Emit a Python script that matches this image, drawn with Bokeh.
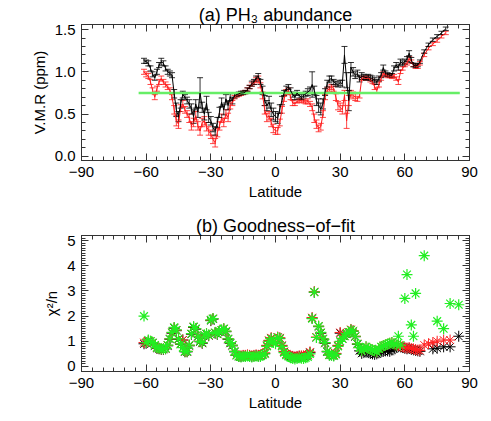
import numpy as np
from bokeh.plotting import figure
from bokeh.layouts import column
from bokeh.models import (Range1d, FixedTicker, LinearAxis, ColumnDataSource,
                          Whisker, TeeHead, PrintfTickFormatter)
from bokeh.embed import file_html
from bokeh.resources import INLINE

nan = float("nan")

# ---------------- panel (a): PH3 abundance ----------------
lat_a = list(range(-61, 68)) + [69, 71, 73, 75, 77, 79]

vmr_black = [
    1.13, 1.12, 1.10, 1.04, 0.97, 0.93, 1.00, 1.08, 1.12, 1.10,   # -61..-52
    1.04, 1.00, 0.98, 0.96, 0.74, 0.55, 0.47, 0.62, 0.73, 0.70,   # -51..-42
    0.66, 0.62, 0.56, 0.47, 0.62, 0.52, 0.75, 0.58, 0.50, 0.63,   # -41..-32
    0.46, 0.42, 0.34, 0.30, 0.40, 0.52, 0.64, 0.55, 0.68, 0.60,   # -31..-22
    0.70, 0.66, 0.72, 0.73, 0.74, 0.75, 0.75, 0.76, 0.79, 0.82,   # -21..-12
    0.86, 0.88, 0.92, 0.95, 0.88, 0.78, 0.66, 0.60, 0.64, 0.55,   # -11..-2
    0.50, 0.47, 0.45, 0.56, 0.66, 0.75, 0.80, 0.82, 0.78, 0.73,   # -1..8
    0.70, 0.75, 0.72, 0.70, 0.72, 0.74, 0.76, 0.78, 0.85, 0.78,   # 9..18
    0.66, 0.60, 0.56, 0.62, 0.76, 0.86, 0.91, 0.92, 0.88, 0.86,   # 19..28
    0.85, 0.87, 0.86, 1.20, 0.90, 0.66, 1.05, 1.00, 0.96, 0.98,   # 29..38
    0.92, 0.95, 0.94, 0.93, 0.94, 0.93, 0.92, 0.90, 0.88, 0.92,   # 39..48
    0.96, 1.05, 0.98, 0.97, 0.96, 0.96, 1.04, 1.08, 1.05, 1.12,   # 49..58
    1.10, 1.12, 1.15, 1.22, 1.14, 1.08, 1.07, 1.08, 1.12,         # 59..67
    1.24, 1.32, 1.38, 1.42, 1.46, 1.51,                           # 69..79
]
err_black = [
    0.03, 0.02, 0.03, 0.03, 0.03, 0.03, 0.03, 0.03, 0.04, 0.03,
    0.03, 0.03, 0.03, 0.03, 0.05, 0.08, 0.06, 0.05, 0.04, 0.03,
    0.04, 0.05, 0.06, 0.08, 0.05, 0.06, 0.18, 0.06, 0.07, 0.08,
    0.06, 0.05, 0.05, 0.05, 0.06, 0.06, 0.05, 0.06, 0.05, 0.05,
    0.04, 0.04, 0.03, 0.02, 0.02, 0.02, 0.02, 0.02, 0.02, 0.02,
    0.03, 0.03, 0.03, 0.03, 0.03, 0.05, 0.06, 0.06, 0.07, 0.08,
    0.07, 0.06, 0.06, 0.05, 0.05, 0.03, 0.03, 0.03, 0.03, 0.03,
    0.03, 0.03, 0.03, 0.03, 0.03, 0.03, 0.04, 0.04, 0.15, 0.05,
    0.06, 0.08, 0.07, 0.06, 0.04, 0.04, 0.04, 0.03, 0.03, 0.03,
    0.03, 0.03, 0.04, 0.10, 0.09, 0.12, 0.06, 0.05, 0.04, 0.04,
    0.04, 0.04, 0.03, 0.03, 0.03, 0.03, 0.03, 0.03, 0.03, 0.03,
    0.03, 0.03, 0.03, 0.02, 0.02, 0.02, 0.03, 0.03, 0.03, 0.03,
    0.03, 0.03, 0.03, 0.03, 0.03, 0.02, 0.02, 0.02, 0.02,
    0.02, 0.02, 0.02, 0.02, 0.02, 0.02,
]
vmr_red = [
    1.00, 0.97, 0.95, 0.88, 0.78, 0.70, 0.80, 0.88, 0.92, 0.88,   # -61..-52
    0.85, 0.82, 0.78, 0.70, 0.55, 0.42, 0.38, 0.57, 0.62, 0.55,   # -51..-42
    0.50, 0.45, 0.36, 0.40, 0.48, 0.36, 0.30, 0.40, 0.42, 0.35,   # -41..-32
    0.30, 0.26, 0.20, 0.16, 0.28, 0.36, 0.45, 0.40, 0.50, 0.46,   # -31..-22
    0.60, 0.63, 0.70, 0.72, 0.73, 0.74, 0.75, 0.76, 0.79, 0.82,   # -21..-12
    0.85, 0.87, 0.90, 0.92, 0.84, 0.72, 0.55, 0.46, 0.48, 0.40,   # -11..-2
    0.33, 0.30, 0.30, 0.40, 0.55, 0.68, 0.76, 0.78, 0.70, 0.63,   # -1..8
    0.62, 0.65, 0.66, 0.66, 0.65, 0.64, 0.65, 0.62, 0.58, 0.45,   # 9..18
    0.38, 0.33, 0.35, 0.50, 0.70, 0.78, 0.80, 0.82, 0.80, 0.70,   # 19..28
    0.60, 0.58, 0.55, 0.72, 0.42, 0.66, 0.74, 0.72, 0.70, 0.68,   # 29..38
    0.72, 0.92, 0.93, 0.92, 0.93, 0.90, 0.88, 0.82, 0.78, 0.85,   # 39..48
    0.92, 0.98, 0.96, 0.95, 0.95, 0.94, 0.95, 0.92, 0.88, 1.00,   # 49..58
    1.04, 1.08, 1.10, 1.16, 1.12, 1.08, 1.06, 1.06, 1.10,         # 59..67
    1.20, 1.28, 1.33, 1.37, 1.42, 1.46,                           # 69..79
]
err_red = [
    0.03, 0.03, 0.03, 0.03, 0.03, 0.03, 0.03, 0.03, 0.03, 0.03,
    0.03, 0.03, 0.03, 0.03, 0.05, 0.06, 0.05, 0.04, 0.04, 0.04,
    0.04, 0.05, 0.05, 0.05, 0.05, 0.05, 0.05, 0.05, 0.05, 0.05,
    0.05, 0.05, 0.05, 0.05, 0.05, 0.05, 0.05, 0.05, 0.05, 0.05,
    0.04, 0.03, 0.02, 0.02, 0.02, 0.02, 0.02, 0.02, 0.02, 0.02,
    0.02, 0.02, 0.03, 0.03, 0.03, 0.04, 0.05, 0.05, 0.05, 0.05,
    0.05, 0.04, 0.04, 0.04, 0.04, 0.03, 0.03, 0.03, 0.03, 0.03,
    0.02, 0.02, 0.02, 0.02, 0.02, 0.02, 0.03, 0.03, 0.04, 0.05,
    0.05, 0.04, 0.04, 0.04, 0.03, 0.03, 0.03, 0.03, 0.03, 0.04,
    0.05, 0.05, 0.05, 0.06, 0.09, 0.06, 0.04, 0.04, 0.04, 0.03,
    0.03, 0.02, 0.02, 0.02, 0.02, 0.02, 0.02, 0.03, 0.03, 0.03,
    0.02, 0.02, 0.02, 0.02, 0.02, 0.02, 0.02, 0.02, 0.03, 0.02,
    0.02, 0.02, 0.02, 0.02, 0.02, 0.02, 0.02, 0.02, 0.02,
    0.02, 0.02, 0.02, 0.02, 0.02, 0.02,
]
ref_lat = [-63.5, 85.5]
ref_vmr = [0.75, 0.75]

# ---------------- panel (b): goodness of fit ----------------
lat_b = list(range(-61, 68)) + [69, 71, 73, 75, 78, 81, 85]

chi_green = [
    2.00, 0.95, 1.05, 1.00, 0.95, 0.85, 0.75, 0.72, 0.70, 0.70,   # -61..-52
    0.72, 0.85, 1.10, 1.35, 1.55, 1.45, 1.10, 0.90, 0.75, 0.60,   # -51..-42
    0.60, 0.85, 1.30, 1.58, 1.50, 1.20, 1.00, 0.95, 1.25, 1.30,   # -41..-32
    1.25, 1.85, 1.90, 1.35, 1.30, 1.40, 1.45, 1.50, 1.40, 1.10,   # -31..-22
    0.95, 0.85, 0.60, 0.45, 0.40, 0.38, 0.40, 0.40, 0.42, 0.40,   # -21..-12
    0.38, 0.40, 0.42, 0.40, 0.40, 0.45, 0.50, 0.80, 1.00, 1.10,   # -11..-2
    0.95, 0.90, 1.15, 1.10, 0.80, 0.55, 0.45, 0.40, 0.35, 0.32,   # -1..8
    0.30, 0.32, 0.35, 0.33, 0.32, 0.35, 0.38, 0.50, 1.90, 2.95,   # 9..18
    1.15, 1.60, 1.35, 1.10, 0.95, 0.60, 0.45, 0.45, 0.42, 0.48,   # 19..28
    0.80, 1.00, 1.10, 1.20, 1.30, 1.35, 1.45, 1.40, 1.20, 0.90,   # 29..38
    0.75, 0.62, 0.70, 0.78, 0.72, 0.68, 0.65, 0.62, 0.58, 0.70,   # 39..48
    0.78, 0.82, 0.85, 0.88, 0.92, 0.95, 0.90, 0.85, 1.20, 0.85,   # 49..58
    nan, 2.70, 3.65, nan, 1.65, 1.20, 2.90, nan, nan,             # 59..67
    4.40, nan, nan, 1.80, 1.50, 2.50, 2.45,                       # 69..85
]
chi_black = [
    0.90, 0.92, 1.00, 0.98, 0.92, 0.82, 0.72, 0.70, 0.68, 0.68,
    0.70, 0.82, 1.08, 1.32, 1.52, 1.42, 1.08, 0.88, 1.05, 0.58,
    0.58, 0.82, 1.28, 1.55, 1.48, 1.18, 0.98, 0.92, 1.22, 1.28,
    1.22, 1.82, 1.88, 1.32, 1.28, 1.38, 1.42, 1.48, 1.38, 1.08,
    0.92, 0.82, 0.58, 0.44, 0.40, 0.40, 0.42, 0.42, 0.44, 0.42,
    0.40, 0.42, 0.44, 0.42, 0.42, 0.48, 0.52, 0.82, 1.02, 1.12,
    0.98, 0.92, 1.15, 1.12, 0.82, 0.58, 0.48, 0.44, 0.40, 0.38,
    0.36, 0.38, 0.40, 0.40, 0.40, 0.42, 0.44, 0.55, 1.92, 2.95,
    1.15, 1.58, 1.32, 1.08, 0.92, 0.58, 0.46, 0.46, 0.44, 0.50,
    0.82, 1.32, 1.10, 1.20, 1.28, 1.35, 1.45, 1.40, 1.18, 0.88,
    0.62, 0.52, 0.55, 0.58, 0.55, 0.52, 0.50, 0.48, 0.50, 0.55,
    0.58, 0.60, 0.62, 0.62, 0.60, 0.65, 0.70, 0.75, 0.80, 0.78,
    0.75, 0.72, 0.70, 0.72, 0.68, 0.66, 0.64, 0.62, 0.60,
    nan, nan, 0.70, 0.72, 0.78, 0.78, 1.20,
]
chi_red = [
    0.95, 0.94, 1.02, 1.00, 0.94, 0.84, 0.74, 0.72, 0.70, 0.70,
    0.72, 0.84, 1.10, 1.34, 1.54, 1.44, 1.10, 0.90, 1.05, 0.60,
    0.60, 0.84, 1.30, 1.57, 1.50, 1.20, 1.00, 0.94, 1.24, 1.30,
    1.24, 1.84, 1.90, 1.34, 1.30, 1.40, 1.44, 1.50, 1.40, 1.10,
    0.94, 0.84, 0.60, 0.46, 0.42, 0.42, 0.44, 0.44, 0.46, 0.44,
    0.42, 0.44, 0.46, 0.44, 0.44, 0.50, 0.54, 0.84, 1.04, 1.14,
    1.00, 0.94, 1.17, 1.14, 0.84, 0.60, 0.50, 0.46, 0.42, 0.40,
    0.38, 0.40, 0.42, 0.42, 0.42, 0.44, 0.46, 0.58, 1.94, 2.97,
    1.17, 1.60, 1.34, 1.10, 0.94, 0.60, 0.48, 0.48, 0.46, 0.52,
    0.84, 1.35, 1.12, 1.22, 1.30, 1.37, 1.47, 1.42, 1.20, 0.90,
    0.75, 0.62, 0.70, 0.78, 0.72, 0.68, 0.65, 0.62, 0.58, 0.70,
    0.78, 0.82, 0.85, 0.88, 0.92, 0.95, 0.90, 0.85, 0.83, 0.81,
    0.78, 0.75, 0.73, 0.75, 0.71, 0.69, 0.67, 0.65, 0.63,
    0.85, 0.90, 0.95, 1.00, 1.05, 1.05, nan,
]

x_ticks = [-90, -60, -30, 0, 30, 60, 90]
x_minor = list(range(-90, 91, 5))
ya_ticks = [0.0, 0.5, 1.0, 1.5]
ya_minor = [round(0.1 * i, 1) for i in range(0, 16)]
yb_ticks = [0, 1, 2, 3, 4, 5]
yb_minor = [round(0.1 * i, 1) for i in range(0, 53)]

FONT = "Liberation Sans"
AX = "#333333"


def style_axis(ax, labels=True):
    ax.axis_line_color = AX
    ax.major_tick_line_color = AX
    ax.minor_tick_line_color = AX
    ax.major_tick_in = 7
    ax.major_tick_out = 0
    ax.minor_tick_in = 4
    ax.minor_tick_out = 0
    ax.major_label_text_font = FONT
    ax.axis_label_text_font = FONT
    ax.axis_label_text_font_style = "normal"
    ax.axis_label_text_font_size = "15px"
    ax.axis_label_text_color = "black"
    ax.major_label_text_font_size = "15px"
    if labels:
        ax.major_label_text_color = "black"
    else:
        ax.major_label_text_color = None
        ax.major_label_standoff = 0


def make_fig(title, height, top, bottom, yrange, yticks, yminor, ylabel, minus):
    p = figure(width=488, height=height, output_backend="svg",
               toolbar_location=None, x_range=Range1d(-90, 90),
               y_range=Range1d(*yrange), min_border_left=81,
               min_border_right=19, min_border_top=top,
               min_border_bottom=bottom)
    p.title.text = title
    p.title.align = "center"
    p.title.text_font = FONT
    p.title.text_font_size = "18px"
    p.title.text_font_style = "normal"
    p.title.text_color = "black"
    p.title.standoff = 0
    p.grid.visible = False
    p.outline_line_color = AX
    p.background_fill_color = "white"
    p.border_fill_color = "white"
    xt = FixedTicker(ticks=x_ticks, minor_ticks=x_minor)
    yt = FixedTicker(ticks=yticks, minor_ticks=yminor)
    p.xaxis.ticker = xt
    p.yaxis.ticker = yt
    style_axis(p.xaxis[0])
    style_axis(p.yaxis[0])
    p.xaxis.axis_label = "Latitude"
    p.xaxis.major_label_standoff = 6
    p.xaxis.axis_label_standoff = 3
    p.yaxis.axis_label = ylabel
    p.yaxis.major_label_standoff = 6
    p.yaxis.axis_label_standoff = 4
    if minus:
        p.xaxis.major_label_overrides = {t: str(t).replace("-", "\u2212") for t in x_ticks}
    top_ax = LinearAxis(ticker=xt)
    style_axis(top_ax, labels=False)
    right_ax = LinearAxis(ticker=yt)
    style_axis(right_ax, labels=False)
    p.add_layout(top_ax, "above")
    p.add_layout(right_ax, "right")
    return p


p1 = make_fig("(a) PH\u2083 abundance", 213, 24, 53, (-0.05, 1.56),
              ya_ticks, ya_minor, "V.M.R (ppm)", False)
p1.yaxis[0].formatter = PrintfTickFormatter(format="%.1f")

src_r = ColumnDataSource(dict(x=lat_a, y=vmr_red,
                              lo=np.array(vmr_red) - np.array(err_red),
                              hi=np.array(vmr_red) + np.array(err_red)))
src_k = ColumnDataSource(dict(x=lat_a, y=vmr_black,
                              lo=np.array(vmr_black) - np.array(err_black),
                              hi=np.array(vmr_black) + np.array(err_black)))

for src, col in ((src_r, "#ff1a1a"), (src_k, "black")):
    p1.line("x", "y", source=src, line_color=col, line_width=1)
    w = Whisker(source=src, base="x", lower="lo", upper="hi",
                line_color=col, line_width=1, line_alpha=0.8,
                lower_head=TeeHead(size=6, line_color=col, line_alpha=0.8),
                upper_head=TeeHead(size=6, line_color=col, line_alpha=0.8))
    p1.add_layout(w)
    if col == "#ff1a1a":
        p1.line(ref_lat, ref_vmr, line_color="#66ee66", line_width=2.5)

p2 = make_fig("(b) Goodness\u2212of\u2212fit", 205, 21, 47, (-0.2, 5.2),
              yb_ticks, yb_minor, "\u03c7\u00b2/n", True)

p2.scatter(lat_b, chi_black, marker="asterisk", size=11, line_color="black", line_width=1)
p2.scatter(lat_b, chi_red, marker="asterisk", size=11, line_color="#ff2020", line_width=1)
p2.scatter(lat_b, chi_green, marker="asterisk", size=11, line_color="#22ee22", line_width=1.2)

layout = column(p1, p2, spacing=0)
open("out.html", "w").write(file_html(layout, INLINE))
